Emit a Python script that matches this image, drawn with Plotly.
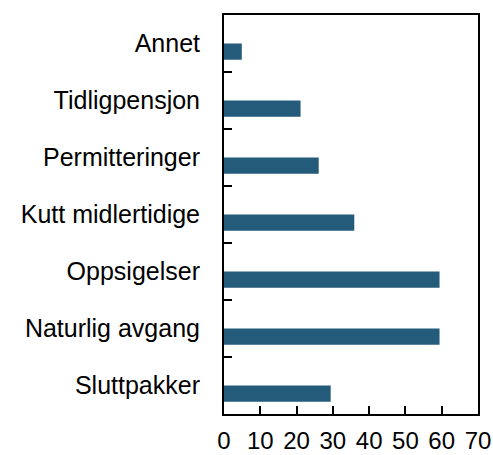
import plotly.graph_objects as go

categories = ["Sluttpakker", "Naturlig avgang", "Oppsigelser", "Kutt midlertidige",
              "Permitteringer", "Tidligpensjon", "Annet"]
values = [29.4, 59.4, 59.4, 35.9, 26.1, 21.1, 4.9]
x_ticks = [0, 10, 20, 30, 40, 50, 60, 70]

fig = go.Figure(go.Bar(
    x=values, y=categories, orientation="h",
    marker=dict(color="#245a7a", line=dict(width=0)),
    width=0.285, offset=-0.285,
))

font = dict(family="Liberation Sans, Arial, sans-serif", size=25, color="#000000")
xfont = dict(family="Liberation Sans, Arial, sans-serif", size=24, color="#000000")

fig.update_layout(
    width=493, height=455,
    margin=dict(l=224, r=15, t=15, b=41, autoexpand=False),
    plot_bgcolor="white", paper_bgcolor="white",
    font=font, showlegend=False,
    xaxis=dict(range=[0, 70], tickvals=x_ticks, ticks="inside", ticklen=8, tickwidth=2,
               tickcolor="black", showline=True, linecolor="black", linewidth=2,
               mirror=True, showgrid=False, zeroline=False, ticklabelstandoff=4,
               automargin=False, tickfont=xfont),
    yaxis=dict(type="category", categoryorder="array", categoryarray=categories,
               ticks="inside", tickson="boundaries", ticklen=8, tickwidth=2,
               tickcolor="black", showline=True, linecolor="black", linewidth=2,
               mirror=True, showgrid=False, zeroline=False, ticklabelstandoff=17,
               automargin=False, tickfont=font),
)

fig.write_html(
    "out.html",
    config={"displayModeBar": False},
    post_script="document.body.style.margin='0';document.body.style.overflow='hidden';",
)
